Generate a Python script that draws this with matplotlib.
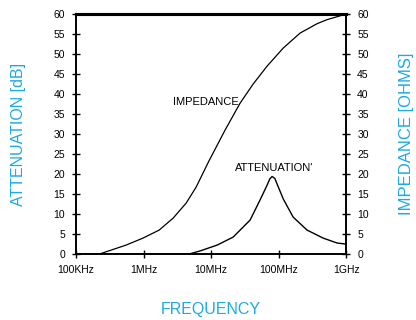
import matplotlib
matplotlib.use("Agg")
import matplotlib.pyplot as plt
from matplotlib.ticker import FixedLocator, NullLocator

plt.rcParams["font.family"] = ["Liberation Sans", "DejaVu Sans"]

# data (frequency in Hz)
imp_freq = [2.2e5, 5.5e5, 9.8e5, 1.7e6, 2.74e6, 4.27e6, 6.0e6, 9.3e6, 1.61e7,
            2.69e7, 4.19e7, 6.76e7, 1.17e8, 2.08e8, 3.72e8, 5.2e8, 1.0e9]
imp_ohms = [0.0, 2.25, 4.0, 6.0, 9.0, 12.75, 16.75, 23.3, 31.0,
            37.75, 42.5, 47.0, 51.5, 55.25, 57.6, 58.6, 60.0]

att_freq = [1.0e5, 4.7e6, 6.9e6, 1.23e7, 2.12e7, 3.78e7, 5.3e7, 6.76e7, 7.4e7,
            8.0e7, 8.8e7, 9.5e7, 1.17e8, 1.64e8, 2.64e8, 4.56e8, 7.4e8, 1.0e9]
att_db = [0.0, 0.0, 0.8, 2.25, 4.25, 8.5, 13.5, 17.25, 18.8,
          19.4, 18.9, 17.5, 13.8, 9.25, 6.0, 4.0, 2.75, 2.5]

x_ticks = [1e5, 1e6, 1e7, 1e8, 1e9]
x_labels = ["100KHz", "1MHz", "10MHz", "100MHz", "1GHz"]
y_ticks = list(range(0, 61, 5))

blue = "#1ea9e4"

fig = plt.figure(figsize=(4.16, 3.2), dpi=100)
ax = fig.add_axes([0.183, 0.206, 0.649, 0.750])
ax2 = ax.twinx()

ax.plot(att_freq, att_db, color="black", lw=1.0)
ax2.plot(imp_freq, imp_ohms, color="black", lw=0.9)

ax.set_xscale("log")
ax.set_xlim(1e5, 1e9)
ax.set_ylim(0, 60)
ax2.set_ylim(0, 60)

ax.xaxis.set_major_locator(FixedLocator(x_ticks))
ax.xaxis.set_minor_locator(NullLocator())
ax.set_xticklabels(x_labels)
ax.set_yticks(y_ticks)
ax2.set_yticks(y_ticks)

for a in (ax, ax2):
    a.tick_params(direction="inout", length=6, width=1, labelsize=7.5, pad=5)
    for s in a.spines.values():
        s.set_linewidth(1.2)
    a.spines["top"].set_linewidth(2.2)

ax.set_ylabel("ATTENUATION [dB]", color=blue, fontsize=11.5, labelpad=20)
ax2.set_ylabel("IMPEDANCE [OHMS]", color=blue, fontsize=12, labelpad=22,
               rotation=90)
ax.set_xlabel("FREQUENCY", color=blue, fontsize=11.5, labelpad=19)

ax.text(2.55e7, 38, "IMPEDANCE", fontsize=8, ha="right", va="center")
ax.text(2.25e7, 21.5, "ATTENUATION'", fontsize=8, ha="left", va="center")

fig.savefig("out.png", dpi=100)
